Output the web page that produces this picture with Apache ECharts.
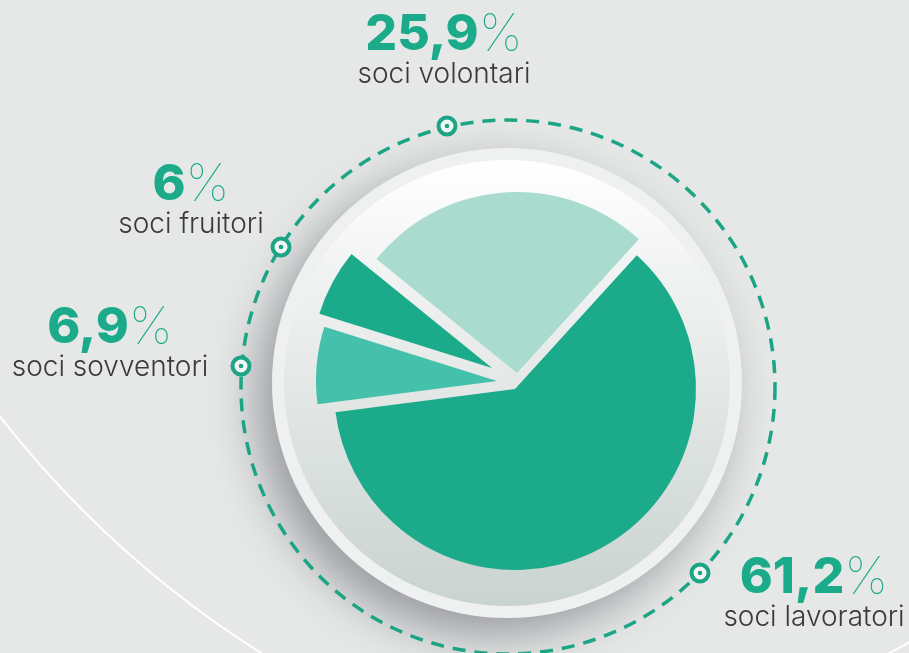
<!DOCTYPE html>
<html style="height: 100%">
<head>
<meta charset="utf-8">
<script src="https://cdn.jsdelivr.net/npm/echarts@6/dist/echarts.min.js"></script>
</head>
<body style="height: 100%; margin: 0">
<div id="main" style="width: 909px; height: 653px;"></div>
<script type="text/javascript">
// data
var names = ['soci lavoratori', 'soci sovventori', 'soci fruitori', 'soci volontari'];
var values = [61.2, 6.9, 6, 25.9];
var colors = ['#1bab8b', '#45c0aa', '#1bab8b', '#a9dbcf'];

// layout: each slice is pulled apart, so each gets its own centre
var sliceCenters = [[515, 389], [497, 381], [492, 368], [517, 373]];
// [text centre x, number baseline, name baseline]
var labelPos = [[814, 595, 628], [110, 345, 378], [191, 202, 235], [444, 52, 85]];
var markerPos = [[700, 573], [241, 366], [281, 247], [447, 126]];

var green = '#1bab8b';
var ringColor = '#1ba585';

var dom = document.getElementById('main');
var myChart = echarts.init(dom);

var series = [];
for (var i = 0; i < values.length; i++) {
    series.push({
        type: 'pie',
        center: sliceCenters[i],
        radius: 181,
        startAngle: 47.7,
        clockwise: true,
        silent: true,
        z: 5,
        label: {show: false},
        labelLine: {show: false},
        emphasis: {disabled: true},
        itemStyle: {borderWidth: 0},
        data: values.map(function (v, j) {
            return {
                name: names[j],
                value: v,
                itemStyle: {color: j === i ? colors[i] : 'transparent'}
            };
        })
    });
}

var graphics = [
    // thin white arcs in the background
    {type: 'circle', z: 0, silent: true, shape: {cx: 800, cy: -205, r: 1013},
     style: {fill: 'none', stroke: '#ffffff', lineWidth: 2}},
    {type: 'line', z: 0, silent: true, shape: {x1: 884, y1: 656, x2: 912, y2: 641},
     style: {stroke: '#ffffff', lineWidth: 2}},
    // bezel
    {type: 'circle', z: 1, silent: true, shape: {cx: 507, cy: 383, r: 235},
     style: {fill: '#eff1f0', shadowBlur: 45, shadowOffsetX: -16, shadowOffsetY: 18,
             shadowColor: 'rgba(40,40,55,0.4)'}},
    {type: 'circle', z: 1, silent: true, shape: {cx: 507, cy: 383, r: 223},
     style: {fill: new echarts.graphic.LinearGradient(0, 0, 0, 1, [
         {offset: 0, color: '#ffffff'},
         {offset: 0.5, color: '#e4e8e6'},
         {offset: 1, color: '#c9d3cf'}
     ])}},
    // dashed ring
    {type: 'circle', z: 2, silent: true, shape: {cx: 508, cy: 387, r: 267},
     style: {fill: 'none', stroke: ringColor, lineWidth: 3.5, lineDash: [13, 9]}}
];

for (var k = 0; k < values.length; k++) {
    var m = markerPos[k];
    graphics.push({type: 'circle', z: 3, silent: true, shape: {cx: m[0], cy: m[1], r: 8.5},
        style: {fill: '#f4f6f5', stroke: ringColor, lineWidth: 4}});
    graphics.push({type: 'circle', z: 3, silent: true, shape: {cx: m[0], cy: m[1], r: 2.3},
        style: {fill: ringColor}});

    var p = labelPos[k];
    var txt = String(values[k]).replace('.', ',');
    graphics.push({
        type: 'text', z: 6, silent: true, x: p[0], y: p[1] - 17,
        style: {
            text: '{n|' + txt + '}{p|%}',
            align: 'center',
            verticalAlign: 'middle',
            rich: {
                n: {fontFamily: 'Inter', fontWeight: 800, fontSize: 50, lineHeight: 56, fill: green},
                p: {fontFamily: 'Inter', fontWeight: 100, fontSize: 52, lineHeight: 56, fill: green}
            }
        }
    });
    graphics.push({
        type: 'text', z: 6, silent: true, x: p[0], y: p[2] - 10,
        style: {
            text: names[k],
            align: 'center',
            verticalAlign: 'middle',
            fontFamily: 'Inter',
            fontWeight: 300,
            fontSize: 28,
            fill: '#3a3a3a'
        }
    });
}

var option = {
    backgroundColor: '#e6e8e7',
    animation: false,
    graphic: graphics,
    series: series
};
myChart.setOption(option, true);
</script>
</body>
</html>
